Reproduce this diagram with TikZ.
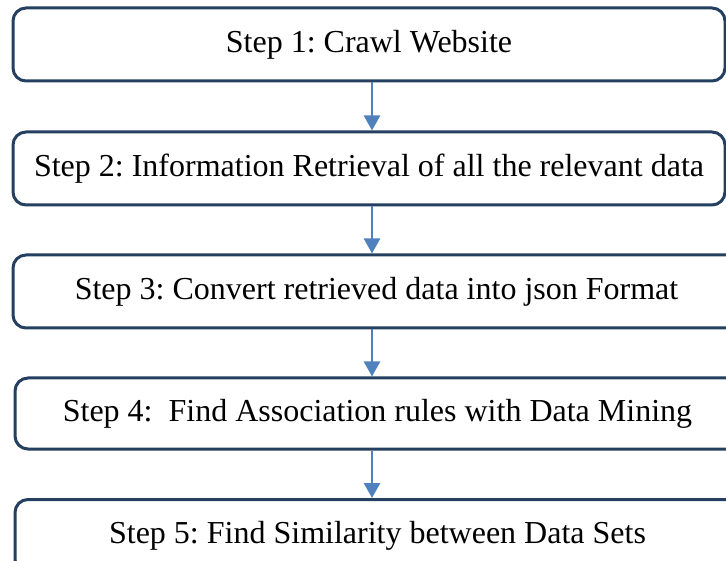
\documentclass[tikz,border=0pt]{standalone}
\usepackage{fontspec}
\setmainfont{Liberation Serif}
\usetikzlibrary{arrows.meta}
\definecolor{boxline}{HTML}{243F60}
\definecolor{arrowblue}{HTML}{4F81BD}
\tikzset{
  stepbox/.style={draw=boxline, line width=3pt, rounded corners=13pt, fill=white,
    inner sep=0pt, font=\fontsize{32}{38}\selectfont\frenchspacing},
  arr/.style={draw=arrowblue, line width=2.5pt, -{Triangle[width=16pt,length=15pt]}}
}
\begin{document}
\begin{tikzpicture}[x=1pt,y=-1pt]
\useasboundingbox (0,0) rectangle (726,561);
\clip (0,0) rectangle (726,561);
\fill[white] (0,0) rectangle (726,561);
\node[stepbox, minimum width=712pt, minimum height=73pt] (b1) at (369,44.5) {Step 1: Crawl Website};
\node[stepbox, minimum width=712pt, minimum height=73pt] (b2) at (369,168.5) {Step 2: Information Retrieval of all the relevant data};
\node[stepbox, minimum width=727pt, minimum height=73pt] (b3) at (376.5,291.5) {Step 3: Convert retrieved data into json Format};
\node[stepbox, minimum width=725pt, minimum height=71pt] (b4) at (377.5,413.5) {Step 4:\ \ Find Association rules with Data Mining};
\node[stepbox, minimum width=725pt, minimum height=73pt] (b5) at (377.5,536) {Step 5: Find Similarity between Data Sets};
\coordinate (ax) at (372,0);
\draw[arr] (b1.south -| ax) -- (b2.north -| ax);
\draw[arr] (b2.south -| ax) -- (b3.north -| ax);
\draw[arr] (b3.south -| ax) -- (b4.north -| ax);
\draw[arr] (b4.south -| ax) -- (b5.north -| ax);
\end{tikzpicture}
\end{document}
